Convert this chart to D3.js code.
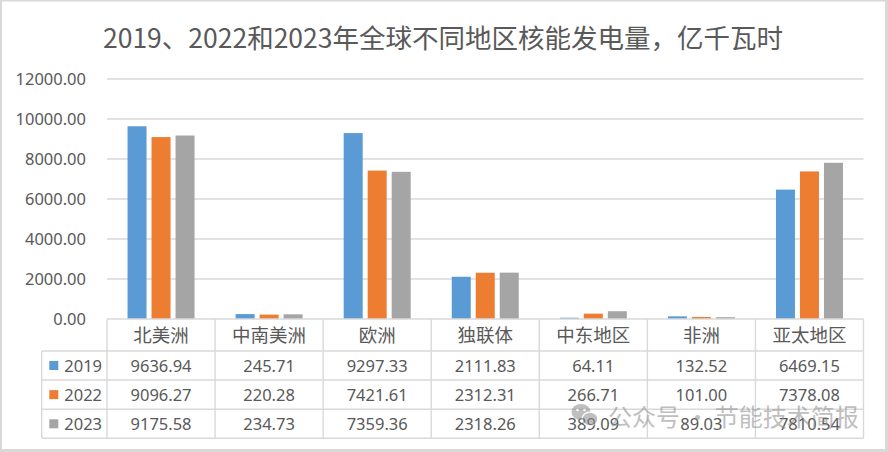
<!DOCTYPE html>
<html><head><meta charset="utf-8">
<script src="https://cdn.jsdelivr.net/npm/d3@7"></script>
<style>
html,body{margin:0;padding:0;background:#fff;}
svg{display:block;}
</style></head>
<body>
<svg id="chart" width="888" height="452"></svg>
<script>
const title = "2019、2022和2023年全球不同地区核能发电量，亿千瓦时";
const categories = ["北美洲","中南美洲","欧洲","独联体","中东地区","非洲","亚太地区"];
const years = ["2019","2022","2023"];
const v2019 = [9636.94,245.71,9297.33,2111.83,64.11,132.52,6469.15];
const v2022 = [9096.27,220.28,7421.61,2312.31,266.71,101.00,7378.08];
const v2023 = [9175.58,234.73,7359.36,2318.26,389.09,89.03,7810.54];
const yTickValues = [0,2000,4000,6000,8000,10000,12000];
const colors = ["#5b9bd5","#ed7d31","#a5a5a5"];
const watermark = "公众号 · 节能技术简报";

const series = [v2019, v2022, v2023];
const svg = d3.select("#chart");
const numFont = "'Noto Sans','Noto Sans CJK SC',sans-serif";
const cjkFont = "'Noto Sans CJK SC','Noto Sans',sans-serif";
const textColor = "#595959";
const lineColor = "#d9d9d9";

// frame
svg.append("rect").attr("x",0).attr("y",0).attr("width",888).attr("height",452).attr("fill","#d9d9d9");
svg.append("rect").attr("x",2).attr("y",1.5).attr("width",883).attr("height",447.5).attr("fill","#fff");

// title
svg.append("text").attr("x",443).attr("y",36).attr("text-anchor","middle")
  .attr("dominant-baseline","central").attr("font-family",cjkFont).attr("font-size",26.5)
  .attr("fill",textColor).text(title);

const plotL = 107, plotR = 863.5, y0 = 319, yTop = 79;
const x = d3.scaleBand().domain(categories).range([plotL, plotR]).padding(0);
const groupW = 67;
const x1 = d3.scaleBand().domain(years).range([0, groupW]).paddingInner(0.2083).paddingOuter(0);
const y = d3.scaleLinear().domain([0,12000]).range([y0, yTop]);

// gridlines
svg.append("g").selectAll("line").data(yTickValues.filter(d=>d>0)).join("line")
  .attr("x1",plotL).attr("x2",plotR).attr("y1",d=>y(d)).attr("y2",d=>y(d))
  .attr("stroke",lineColor).attr("stroke-width",1.4);

// y axis labels via d3 axis
const yAxis = d3.axisLeft(y).tickValues(yTickValues).tickFormat(d=>d.toFixed(2)).tickSize(0).tickPadding(0);
const yg = svg.append("g").attr("transform",`translate(86,0)`).call(yAxis);
yg.select(".domain").remove();
yg.selectAll("text").attr("font-family",numFont).attr("font-size",16.5).attr("fill",textColor).attr("dy","0.35em");

// bars
const off = (x.bandwidth()-groupW)/2;
years.forEach((yr,si)=>{
  svg.append("g").selectAll("rect").data(series[si]).join("rect")
    .attr("x",(d,i)=>x(categories[i])+off+x1(yr))
    .attr("width",x1.bandwidth())
    .attr("y",d=>y(d))
    .attr("height",d=>y0-y(d))
    .attr("fill",colors[si]);
});

// table
const rowY = [319, 351, 380, 409.3, 438.3];
const legL = 41.7;
const tg = svg.append("g").attr("stroke",lineColor).attr("stroke-width",1.4);
tg.append("line").attr("x1",plotL).attr("x2",plotR).attr("y1",rowY[0]).attr("y2",rowY[0]);
for (let r=1;r<rowY.length;r++){
  tg.append("line").attr("x1",legL).attr("x2",plotR).attr("y1",rowY[r]).attr("y2",rowY[r]);
}
const bounds = categories.map(c=>x(c)).concat([plotR]);
bounds.forEach(bx=>{
  tg.append("line").attr("x1",bx).attr("x2",bx).attr("y1",rowY[0]).attr("y2",rowY[4]);
});
tg.append("line").attr("x1",legL).attr("x2",legL).attr("y1",rowY[1]).attr("y2",rowY[4]);

// category labels
svg.append("g").selectAll("text").data(categories).join("text")
  .attr("x",d=>x(d)+x.bandwidth()/2).attr("y",(rowY[0]+rowY[1])/2-1)
  .attr("text-anchor","middle").attr("dominant-baseline","central")
  .attr("font-family",cjkFont).attr("font-size",18.5).attr("fill",textColor).text(d=>d);

// values rows + legend
years.forEach((yr,si)=>{
  const cy = (rowY[si+1]+rowY[si+2])/2;
  svg.append("g").selectAll("text").data(series[si]).join("text")
    .attr("x",(d,i)=>x(categories[i])+x.bandwidth()/2).attr("y",cy)
    .attr("text-anchor","middle").attr("dominant-baseline","central")
    .attr("font-family",numFont).attr("font-size",16.5).attr("fill",textColor)
    .text(d=>d.toFixed(2));
  svg.append("rect").attr("x",49.3).attr("y",cy-4.5).attr("width",9).attr("height",9).attr("fill",colors[si]);
  svg.append("text").attr("x",64.3).attr("y",cy).attr("dominant-baseline","central")
    .attr("font-family",numFont).attr("font-size",16.5).attr("fill",textColor).text(yr);
});

// watermark
const wm = svg.append("g").attr("opacity",0.55);
wm.append("ellipse").attr("cx",581).attr("cy",412).attr("rx",9.5).attr("ry",8).attr("fill","#8c8c8c");
wm.append("ellipse").attr("cx",590).attr("cy",419).attr("rx",8).attr("ry",6.8).attr("fill","#8c8c8c").attr("stroke","#fff").attr("stroke-width",1.2);
wm.append("circle").attr("cx",577.5).attr("cy",410).attr("r",1.3).attr("fill","#fff");
wm.append("circle").attr("cx",584.5).attr("cy",410).attr("r",1.3).attr("fill","#fff");
wm.append("text").attr("x",608).attr("y",415).attr("dominant-baseline","central")
  .attr("font-family",cjkFont).attr("font-size",24).attr("fill","#8c8c8c").text(watermark);
</script>
</body></html>
